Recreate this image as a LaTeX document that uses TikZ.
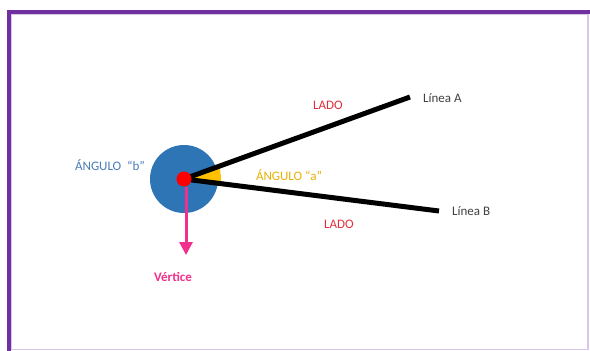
\documentclass[tikz,border=0pt]{standalone}
\usepackage{fontspec}
\setmainfont{Carlito}
\usetikzlibrary{arrows.meta}
\definecolor{frame}{HTML}{7030A0}
\definecolor{framelight}{HTML}{D9C6EA}
\definecolor{circblue}{HTML}{2E75B6}
\definecolor{txtblue}{HTML}{4A7DB8}
\definecolor{gold}{HTML}{FFC000}
\definecolor{txtgold}{HTML}{E8B000}
\definecolor{pink}{HTML}{F0308C}
\definecolor{txtred}{HTML}{E0303C}
\tikzset{
  lbl/.style={font=\fontsize{13}{15}\selectfont, inner sep=0pt},
  side/.style={line width=5pt, black},
}
\begin{document}
\begin{tikzpicture}[x=1pt,y=-1pt]
\useasboundingbox (0,0) rectangle (590,351);
\fill[white] (0,0) rectangle (590,351);
% frame
\draw[framelight, line width=1.5pt] (588,12) -- (588,349.5) -- (9,349.5);
\draw[framelight, line width=1.2pt] (11.5,349) -- (11.5,14.5) -- (588,14.5);
\draw[frame, line width=4pt] (9,351) -- (9,12) -- (590,12);
% geometry
\coordinate (v) at (184,179);
\coordinate (a) at (410,97);
\coordinate (b) at (439,211);
\fill[circblue] (v) circle[radius=34];
\fill[gold] (v) -- ++(-19.9:37) arc[start angle=-19.9, end angle=7.2, radius=37] -- cycle;
\draw[side] (v) -- (a);
\draw[side] (v) -- (b);
\node[circle, fill=red, minimum size=15pt, inner sep=0pt] (dot) at (v) {};
\coordinate (tip) at (186,255);
\draw[pink, line width=3pt, -{Triangle[length=13pt,width=13pt]}] (186,187) -- (tip);
% labels
\node[lbl, text=txtblue] (angb) at (110,165) {ÁNGULO\ \ “b”};
\node[lbl, text=txtgold] (anga) at (289,175) {ÁNGULO “a”};
\node[lbl, text=txtred] (lado1) at (328,105) {LADO};
\node[lbl, text=txtred] (lado2) at (339,224) {LADO};
\node[lbl, text=black!75, anchor=west] (la) at (423,98) {Línea A};
\node[lbl, text=black!75, anchor=west] (lb) at (452,211) {Línea B};
\node[lbl, text=pink, font=\fontsize{13}{15}\selectfont\bfseries] (vert) at (173,277) {Vértice};
\end{tikzpicture}
\end{document}
